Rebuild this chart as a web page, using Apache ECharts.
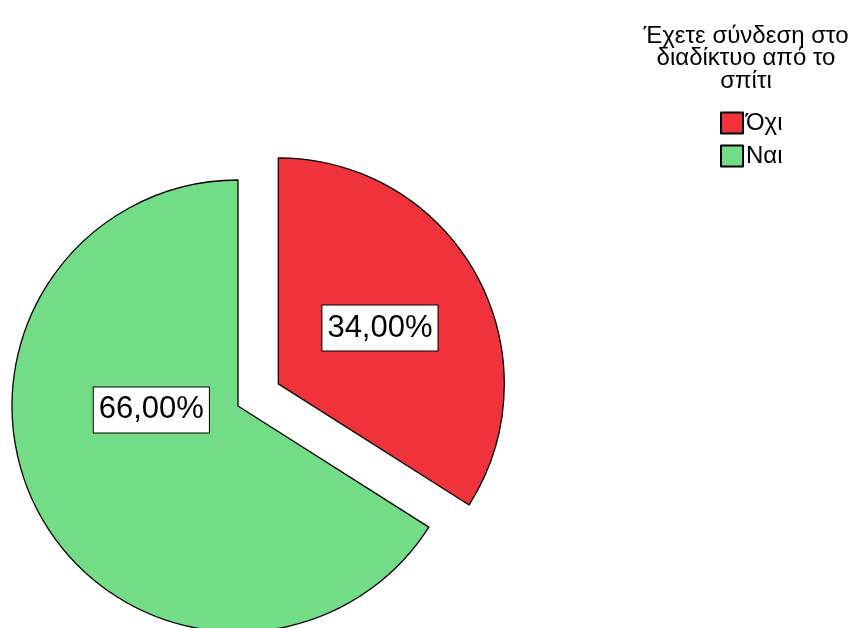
<!DOCTYPE html>
<html>
<head>
<meta charset="utf-8">
<script src="https://cdn.jsdelivr.net/npm/echarts@6/dist/echarts.min.js"></script>
<style>
html,body{margin:0;padding:0;background:#fff;}
#c{width:864px;height:628px;}
</style>
</head>
<body>
<div id="c"></div>
<script>
const categories = ['Όχι', 'Ναι'];
const values = [34, 66];
const colors = ['#f0333a', '#72dc86'];
const legendTitle = 'Έχετε σύνδεση στο\nδιαδίκτυο από το\nσπίτι';

const chart = echarts.init(document.getElementById('c'));
const labelOffsets = [[2, -2], [15, -52]];

chart.setOption({
  animation: false,
  backgroundColor: '#ffffff',
  title: {
    text: legendTitle,
    left: 741,
    top: 20,
    textAlign: 'center',
    textStyle: {
      fontFamily: 'Liberation Sans, Arial, sans-serif',
      fontSize: 24,
      fontWeight: 'normal',
      color: '#000',
      lineHeight: 22.5,
      align: 'center'
    }
  },
  legend: {
    orient: 'vertical',
    left: 715,
    top: 106,
    itemWidth: 22,
    itemHeight: 21,
    itemGap: 9,
    icon: 'rect',
    selectedMode: false,
    data: categories,
    textStyle: {
      fontFamily: 'Liberation Sans, Arial, sans-serif',
      fontSize: 24,
      color: '#000',
      padding: [0, 0, 0, -2]
    }
  },
  series: [{
    type: 'pie',
    center: [238, 406],
    radius: 226,
    startAngle: 90,
    clockwise: true,
    selectedMode: 'multiple',
    selectedOffset: 46,
    emphasis: { disabled: true },
    itemStyle: { borderColor: '#000', borderWidth: 1.3 },
    label: {
      show: true,
      position: 'inside',
      formatter: p => p.value.toFixed(2).replace('.', ',') + '%',
      fontFamily: 'Liberation Sans, Arial, sans-serif',
      fontSize: 31,
      color: '#000',
      backgroundColor: '#fff',
      borderColor: '#000',
      borderWidth: 1,
      padding: [8, 5, 6, 5]
    },
    labelLine: { show: false },
    data: categories.map((c, i) => ({
      name: c,
      value: values[i],
      selected: i === 0,
      itemStyle: { color: colors[i] },
      label: { offset: labelOffsets[i] }
    }))
  }]
});
</script>
</body>
</html>
